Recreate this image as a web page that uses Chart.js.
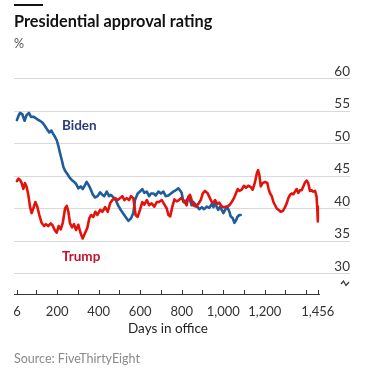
<!DOCTYPE html>
<html>
<head>
<meta charset="utf-8">
<script src="https://cdn.jsdelivr.net/npm/chart.js@4/dist/chart.umd.min.js"></script>
<style>
  body { margin: 0; background: #fff; font-family: Lato, sans-serif; }
  #wrap { position: relative; width: 372px; height: 372px; overflow: hidden; }
  #grafico { position: absolute; left: 0; top: 0; }
  .txt { position: absolute; white-space: nowrap; }
  #regla { position: absolute; left: 14px; top: 4px; width: 29px; height: 2px; background: #111; }
  #titulo { left: 14px; top: 11px; font-size: 16.3px; font-weight: 700; color: #111; }
  #unidad { left: 14px; top: 36px; font-size: 12.5px; color: #555; }
  #ejeX { left: 168px; top: 320px; transform: translateX(-50%); font-size: 13.5px; color: #222; }
  #fuente { left: 14px; top: 351px; font-size: 12.5px; color: #8a8a8a; }
</style>
</head>
<body>
<div id="wrap">
  <canvas id="grafico" width="372" height="372"></canvas>
  <div id="regla"></div>
  <div class="txt" id="titulo">Presidential approval rating</div>
  <div class="txt" id="unidad">%</div>
  <div class="txt" id="ejeX">Days in office</div>
  <div class="txt" id="fuente">Source: FiveThirtyEight</div>
</div>
<script>
// days in office and approval %
const bidenDias = [6, 13, 21, 32, 43, 53, 64, 74, 88, 101, 117, 130, 141, 153, 162, 172, 182, 190, 198, 206,
  214, 222, 230, 238, 249, 259, 270, 281, 291, 302, 313, 323, 334, 342, 352, 361, 371, 382, 395, 407,
  418, 427, 439, 450, 459, 471, 482, 495, 508, 519, 530, 543, 556, 567, 575, 588, 599, 610, 620, 632,
  643, 652, 664, 675, 688, 700, 712, 723, 736, 748, 760, 771, 784, 794, 800, 808, 816, 824, 832, 840,
  848, 856, 864, 875, 885, 897, 908, 921, 933, 945, 953, 961, 969, 976, 985, 993, 1001, 1009, 1020, 1030,
  1036, 1046, 1054, 1062, 1068, 1078, 1084];
const bidenAprob = [53.6, 54.2, 54.7, 54.5, 53.5, 54.4, 54.7, 54.1, 54.1, 53.8, 53.5, 53.2, 52.7, 52.1, 51.7, 52.0, 51.4, 51.0, 50.5, 49.6,
  48.5, 47.5, 46.4, 45.8, 45.3, 44.8, 44.4, 44.1, 43.8, 43.1, 43.4, 43.0, 43.6, 44.1, 43.6, 43.0, 42.2, 41.7, 41.9, 42.5,
  42.1, 41.9, 42.6, 41.9, 42.1, 41.7, 41.3, 40.4, 39.7, 39.2, 38.7, 38.1, 38.5, 39.3, 41.3, 42.3, 42.6, 43.0, 42.4, 42.6,
  41.9, 42.3, 42.3, 42.0, 42.6, 42.3, 42.6, 41.9, 42.0, 42.3, 42.6, 42.8, 43.1, 42.7, 42.4, 41.0, 40.9, 41.3, 41.6, 41.3,
  40.5, 41.0, 40.7, 40.3, 39.9, 40.2, 39.9, 40.3, 40.1, 40.7, 40.2, 41.0, 40.2, 39.8, 40.3, 39.8, 39.3, 39.8, 40.2, 39.5,
  38.8, 38.5, 37.8, 38.2, 38.7, 39.0, 39.0];

const trumpDias = [6, 13, 21, 29, 37, 45, 53, 61, 69, 77, 85, 95, 104, 114, 125, 137, 146, 157, 169, 178,
  188, 198, 207, 217, 227, 238, 246, 254, 262, 272, 281, 291, 302, 313, 323, 334, 345, 355, 363, 374,
  384, 394, 407, 418, 431, 444, 455, 466, 479, 492, 503, 514, 524, 535, 546, 556, 567, 578, 588, 599,
  610, 620, 632, 643, 655, 668, 680, 691, 704, 717, 728, 736, 745, 755, 765, 776, 787, 797, 808, 816,
  824, 832, 840, 848, 856, 869, 880, 892, 901, 912, 924, 933, 945, 953, 961, 972, 981, 993, 1004, 1017,
  1030, 1041, 1052, 1062, 1070, 1078, 1089, 1100, 1110, 1121, 1133, 1142, 1152, 1162, 1168, 1174, 1181, 1190, 1202, 1213,
  1218, 1226, 1234, 1242, 1250, 1258, 1266, 1277, 1287, 1298, 1306, 1314, 1322, 1330, 1338, 1346, 1354, 1362, 1370, 1378,
  1386, 1394, 1402, 1410, 1418, 1426, 1434, 1443, 1450, 1453, 1456];
const trumpAprob = [44.2, 44.6, 44.4, 43.9, 43.0, 43.9, 43.3, 42.1, 40.3, 39.3, 40.0, 41.0, 40.3, 39.0, 37.8, 37.3, 37.6, 37.3, 37.7, 37.4,
  36.7, 36.3, 37.3, 36.8, 37.8, 40.0, 40.4, 39.5, 37.7, 37.1, 37.6, 36.7, 37.5, 36.2, 35.4, 36.2, 37.0, 38.5, 39.0, 38.7,
  39.5, 39.0, 39.8, 39.5, 40.2, 39.5, 40.8, 41.3, 41.6, 41.3, 41.6, 41.9, 41.3, 41.6, 41.3, 41.9, 41.6, 39.0, 38.7, 39.8,
  41.0, 40.6, 41.3, 40.5, 40.8, 40.3, 41.0, 41.0, 41.3, 40.6, 40.0, 39.0, 38.8, 40.3, 41.4, 41.1, 41.3, 41.6, 41.3, 40.9,
  40.5, 41.8, 42.1, 41.3, 40.5, 40.3, 40.7, 41.3, 42.3, 42.7, 42.4, 41.8, 41.0, 40.9, 41.3, 40.7, 40.9, 40.3, 40.2, 40.3,
  40.5, 41.0, 41.6, 42.4, 43.0, 42.7, 42.9, 43.5, 43.2, 43.5, 43.3, 42.9, 43.9, 45.4, 45.9, 45.2, 43.4, 43.9, 44.1, 43.9,
  43.1, 42.3, 41.9, 41.0, 40.5, 40.0, 39.8, 39.5, 39.6, 40.2, 40.8, 41.6, 42.1, 42.3, 42.2, 42.6, 43.0, 42.4, 42.8, 42.8,
  43.4, 44.0, 44.3, 43.9, 42.7, 42.8, 42.6, 42.7, 41.8, 40.3, 38.0];

const xTicks = [6, 100, 200, 300, 400, 500, 600, 700, 800, 900, 1000, 1100, 1200, 1300, 1400, 1456];
const xTickLabels = ['6', '', '200', '', '400', '', '600', '', '800', '', '1,000', '', '1,200', '', '', '1,456'];
const yTicks = [30, 35, 40, 45, 50, 55, 60];

const azul = '#1f5c9c';
const rojo = '#e3120b';

const puntos = (dias, vals) => dias.map((d, i) => ({ x: d, y: vals[i] }));

// axis line with upward ticks, series labels, axis-break mark
const extras = {
  id: 'extras',
  afterDraw(chart) {
    const ctx = chart.ctx;
    const x = chart.scales.x, y = chart.scales.y;
    const base = chart.chartArea.bottom;
    ctx.save();
    ctx.strokeStyle = '#333';
    ctx.lineWidth = 1;
    ctx.beginPath();
    ctx.moveTo(x.getPixelForValue(-8), base + 0.5);
    ctx.lineTo(x.getPixelForValue(1466), base + 0.5);
    xTicks.forEach(v => {
      const px = Math.round(x.getPixelForValue(v)) + 0.5;
      ctx.moveTo(px, base - 4);
      ctx.lineTo(px, base + 1);
    });
    ctx.stroke();

    // break symbol
    ctx.lineWidth = 1.2;
    ctx.beginPath();
    ctx.moveTo(341, 284);
    ctx.lineTo(343.5, 281);
    ctx.lineTo(346, 285.5);
    ctx.lineTo(349, 282);
    ctx.stroke();

    ctx.font = '700 13.5px Lato';
    ctx.textBaseline = 'middle';
    ctx.textAlign = 'left';
    ctx.fillStyle = '#2b3d7e';
    ctx.fillText('Biden', x.getPixelForValue(223), y.getPixelForValue(52.7));
    ctx.fillStyle = '#c9102a';
    ctx.fillText('Trump', x.getPixelForValue(223), y.getPixelForValue(32.6));
    ctx.restore();
  }
};

new Chart(document.getElementById('grafico'), {
  type: 'line',
  data: {
    datasets: [
      { label: 'Trump', data: puntos(trumpDias, trumpAprob), borderColor: rojo, borderWidth: 2.6, pointRadius: 0, tension: 0, borderJoinStyle: 'round', borderCapStyle: 'round' },
      { label: 'Biden', data: puntos(bidenDias, bidenAprob), borderColor: azul, borderWidth: 2.6, pointRadius: 0, tension: 0, borderJoinStyle: 'round', borderCapStyle: 'round' }
    ]
  },
  options: {
    responsive: false,
    devicePixelRatio: 1,
    animation: false,
    layout: { padding: { left: 14, right: 22, top: 78.5, bottom: 48 } },
    plugins: { legend: { display: false }, tooltip: { enabled: false } },
    scales: {
      x: {
        type: 'linear', min: -8, max: 1611,
        afterBuildTicks: s => { s.ticks = xTicks.map(v => ({ value: v })); },
        afterFit: s => { s.height = 30; },
        grid: { display: false },
        border: { display: false },
        ticks: {
          autoSkip: false, maxRotation: 0, padding: 2, color: '#333',
          font: { family: 'Lato', size: 13 },
          callback: v => xTickLabels[xTicks.indexOf(v)]
        }
      },
      y: {
        position: 'right', min: 26.85, max: 60,
        afterBuildTicks: s => { s.ticks = yTicks.map(v => ({ value: v })); },
        afterFit: s => { s.width = 0; },
        grid: { color: '#dadada', lineWidth: 1, drawTicks: false },
        border: { display: false },
        ticks: {
          mirror: true, padding: 0, labelOffset: -7, color: '#333',
          font: { family: 'Lato', size: 13.5 }
        }
      }
    }
  },
  plugins: [extras]
});
</script>
</body>
</html>
